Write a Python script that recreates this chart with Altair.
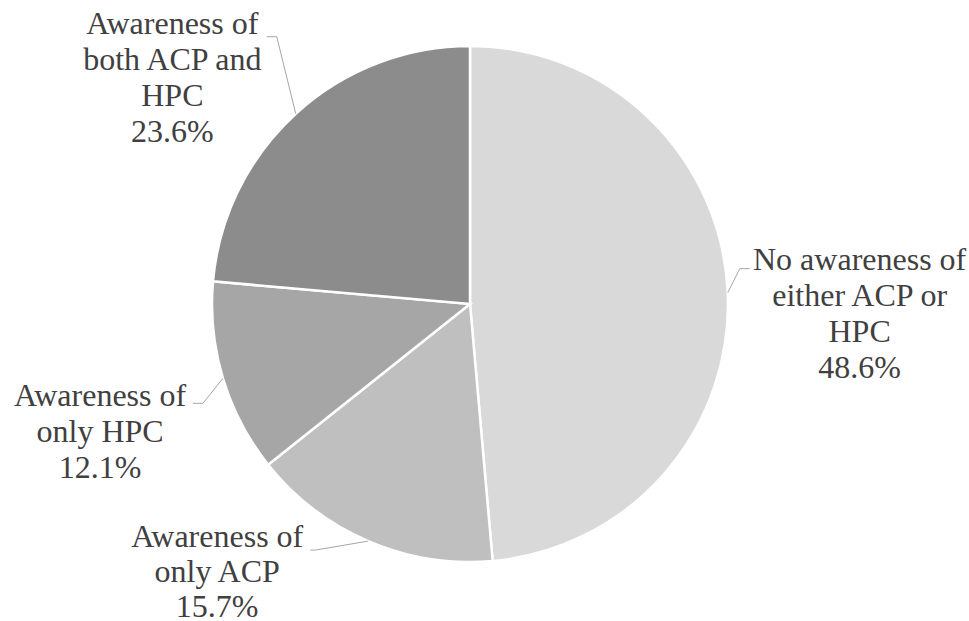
import math
import altair as alt
import pandas as pd

# ---- data ----
categories = [
    "No awareness of either ACP or HPC",
    "Awareness of only ACP",
    "Awareness of only HPC",
    "Awareness of both ACP and HPC",
]
label_lines = [
    ["No awareness of", "either ACP or", "HPC"],
    ["Awareness of", "only ACP"],
    ["Awareness of", "only HPC"],
    ["Awareness of", "both ACP and", "HPC"],
]
values = [48.6, 15.7, 12.1, 23.6]
colors = ["#d9d9d9", "#bfbfbf", "#a6a6a6", "#8c8c8c"]

# ---- layout/style ----
CX, CY, R = 470, 304, 258
LABEL_R = 380
label_offsets = [(10, -27), (-103, -116), (-6, -17), (-41, 0)]
leader_offsets = [
    [(12, -24), (22, -24)],
    [(-53, 9), (-58, 9)],
    [(-20, 25), (-30, 25)],
    [(-19, -77), (-29, -77)],
]
FONT = "Liberation Serif"

df = pd.DataFrame({
    "category": categories,
    "value": values,
    "idx": list(range(len(values))),
    "label": ["\n".join(l + [f"{v:.1f}%"]) for l, v in zip(label_lines, values)],
})

# leader lines derived from slice mid-angles
rows = []
cum = 0.0
total = sum(values)
for i, v in enumerate(values):
    mid = (cum + v / 2) / total * 2 * math.pi
    cum += v
    ex = CX + R * math.sin(mid)
    ey = CY - R * math.cos(mid)
    rows.append({"cat": categories[i], "o": 0, "px": ex, "py": ey})
    for k, (ox, oy) in enumerate(leader_offsets[i]):
        rows.append({"cat": categories[i], "o": k + 1, "px": ex + ox, "py": ey + oy})
leaders = pd.DataFrame(rows)

pie = alt.Chart(df).mark_arc(radius=R, stroke="white", strokeWidth=2.5).encode(
    theta=alt.Theta("value:Q", stack=True),
    order=alt.Order("idx:Q"),
    color=alt.Color("category:N", scale=alt.Scale(domain=categories, range=colors), legend=None),
    x=alt.value(CX),
    y=alt.value(CY),
)

lead = alt.Chart(leaders).mark_line(color="#a6a6a6", strokeWidth=1).encode(
    x=alt.X("px:Q", scale=None),
    y=alt.Y("py:Q", scale=None),
    detail="cat:N",
    order="o:Q",
)

base_text = alt.Chart(df).transform_window(
    cum_end="sum(value)", sort=[alt.SortField("idx")], frame=[None, 0]
).transform_calculate(
    mid="datum.cum_end - datum.value / 2"
)

text_layers = []
for i, cat in enumerate(categories):
    dx, dy = label_offsets[i]
    lh = 35 if i == 1 else 36
    t = base_text.transform_filter(alt.datum.category == cat).mark_text(
        font=FONT, fontSize=32, lineHeight=lh, lineBreak="\n", color="#404040",
        align="center", baseline="middle", dx=dx, dy=dy,
    ).encode(
        theta=alt.Theta("mid:Q", scale=alt.Scale(domain=[0, total]), stack=False),
        radius=alt.value(LABEL_R),
        x=alt.value(CX),
        y=alt.value(CY),
        text="label:N",
    )
    text_layers.append(t)

chart = alt.layer(pie, lead, *text_layers).properties(
    width=969, height=621,
    autosize=alt.AutoSizeParams(type="none"),
    padding=0,
    background="white",
).configure_view(stroke=None)

chart.save("out.html", embed_options={"renderer": "svg", "actions": False})
